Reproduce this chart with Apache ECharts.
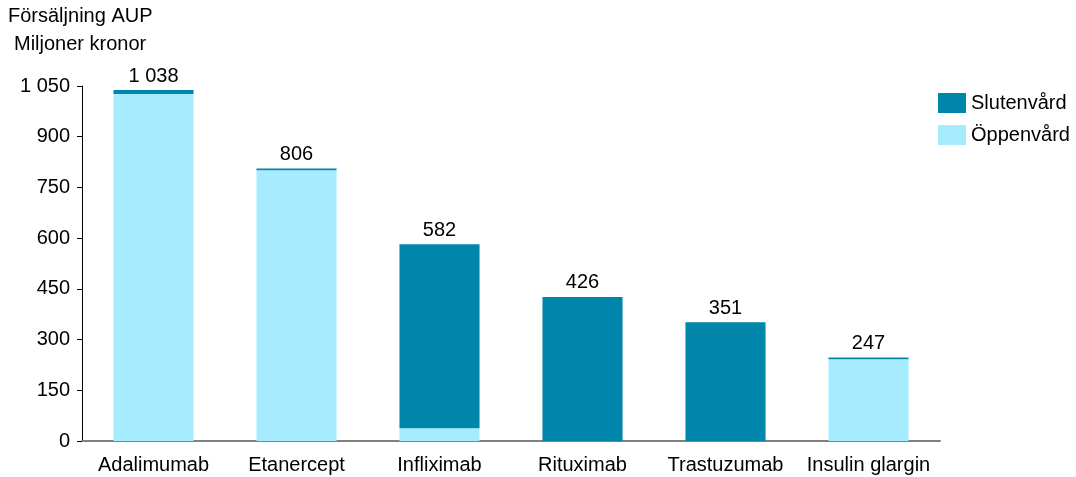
<!DOCTYPE html>
<html>
<head>
<meta charset="utf-8">
<script src="https://cdn.jsdelivr.net/npm/echarts@6/dist/echarts.min.js"></script>
<style>
  html, body { margin: 0; padding: 0; background: #fff; }
  #mainChart { width: 1076px; height: 477px; }
</style>
</head>
<body>
<div id="mainChart"></div>
<script>
var categories = ["Adalimumab", "Etanercept", "Infliximab", "Rituximab", "Trastuzumab", "Insulin glargin"];
var oppenvard = [1026, 801, 38, 0, 0, 242];
var slutenvard = [12, 5, 544, 426, 351, 5];
var totals = [1038, 806, 582, 426, 351, 247];

function fmt(v) {
    return String(v).replace(/\B(?=(\d{3})+(?!\d))/g, " ");
}

var chart = echarts.init(document.getElementById("mainChart"));
var font = "Liberation Sans, Arial, sans-serif";

chart.setOption({
    animation: false,
    textStyle: { fontFamily: font },
    grid: { left: 82, right: 136, top: 86, bottom: 36 },
    legend: {
        orient: "vertical",
        left: 938,
        top: 93,
        padding: 0,
        itemWidth: 28,
        itemHeight: 20,
        itemGap: 12,
        icon: "rect",
        data: ["Slutenvård", "Öppenvård"],
        textStyle: { fontSize: 20, color: "#000", fontFamily: font }
    },
    graphic: [
        { type: "text", left: 8, top: 6, style: { text: "Försäljning AUP", fontSize: 20, fill: "#000", fontFamily: font } },
        { type: "text", left: 14, top: 34, style: { text: "Miljoner kronor", fontSize: 20, fill: "#000", fontFamily: font } }
    ],
    xAxis: {
        type: "category",
        data: categories,
        axisLine: { lineStyle: { color: "#808080", width: 2 } },
        axisTick: { show: false },
        axisLabel: { fontSize: 20, color: "#000", margin: 14, interval: 0, hideOverlap: false }
    },
    yAxis: {
        type: "value",
        min: 0,
        max: 1050,
        interval: 150,
        axisLine: { show: true, lineStyle: { color: "#000", width: 1 } },
        axisTick: { show: true, length: 5, lineStyle: { color: "#000" } },
        splitLine: { show: false },
        axisLabel: { fontSize: 20, color: "#000", margin: 12, formatter: function (v) { return fmt(v); } }
    },
    series: [
        {
            name: "Öppenvård",
            type: "bar",
            stack: "total",
            barWidth: "56%",
            itemStyle: { color: "#a6ecfe" },
            data: oppenvard
        },
        {
            name: "Slutenvård",
            type: "bar",
            stack: "total",
            barWidth: "56%",
            itemStyle: { color: "#0086ab" },
            label: {
                show: true,
                position: "top",
                distance: 4,
                fontSize: 20,
                color: "#000",
                formatter: function (p) { return fmt(totals[p.dataIndex]); }
            },
            data: slutenvard
        }
    ]
});
</script>
</body>
</html>
